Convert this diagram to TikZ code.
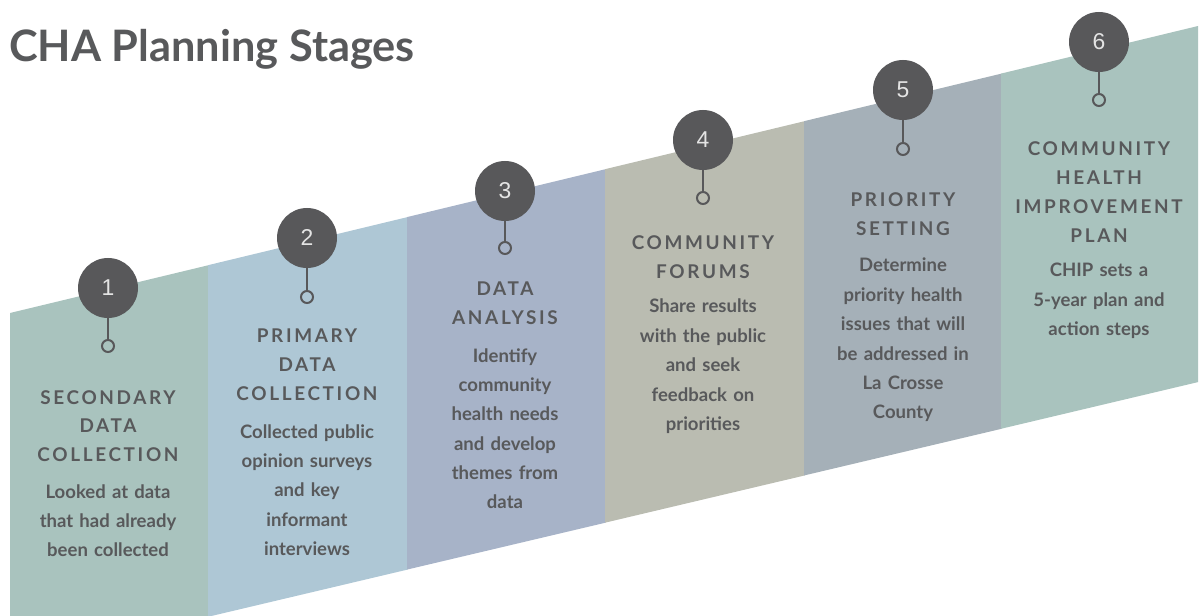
\documentclass[tikz,border=0pt]{standalone}
\usepackage{fontspec}
\setmainfont{Lato}
\newfontfamily\capsfont[LetterSpace=14]{Lato}
\newfontfamily\numfont{Liberation Sans}
\usepackage{tikz}

\definecolor{darkgrey}{HTML}{58585A}
\definecolor{textgrey}{HTML}{58595B}
\definecolor{numgrey}{HTML}{E4E4E4}
\definecolor{sage}{HTML}{A9C3BE}
\definecolor{skyblue}{HTML}{AEC7D5}
\definecolor{lavender}{HTML}{A7B3C8}
\definecolor{stone}{HTML}{BABCB1}
\definecolor{slate}{HTML}{A5B0B8}

\begin{document}
\begin{tikzpicture}[x=1bp, y=-1bp,
  stage/.style={circle, fill=darkgrey, minimum size=60bp, inner sep=0pt,
    text=numgrey, font=\numfont\fontsize{23}{23}\selectfont},
  dot/.style={circle, draw=darkgrey, line width=2bp, minimum size=12bp, inner sep=0pt},
  stem/.style={draw=darkgrey, line width=2.2bp},
  title/.style={anchor=base, align=center, text width=190bp, text=textgrey,
    font=\capsfont\bfseries\fontsize{19}{29}\selectfont},
  body/.style={anchor=base, align=center, text width=196bp, text=textgrey,
    font=\bfseries\fontsize{18.6}{29.5}\selectfont}]
\useasboundingbox (0,0) rectangle (1202,616);

% columns
\fill[sage] (10,313) -- (208.5,265.2) -- (208.5,616) -- (10,616) -- cycle;
\fill[skyblue] (208,265.2) -- (407.5,217.1) -- (407.5,569.6) -- (208,616.8) -- cycle;
\fill[lavender] (407,217.1) -- (605.5,169.2) -- (605.5,522.7) -- (407,569.6) -- cycle;
\fill[stone] (605,169.2) -- (804.5,121.2) -- (804.5,475.5) -- (605,522.7) -- cycle;
\fill[slate] (804,121.2) -- (1001.5,73.6) -- (1001.5,428.8) -- (804,475.5) -- cycle;
\fill[sage] (1001,73.6) -- (1198,26) -- (1198,382.1) -- (1001,428.8) -- cycle;

\node[anchor=base west, text=textgrey, font=\bfseries\fontsize{43.5}{43.5}\selectfont, inner sep=0pt]
  (head) at (9,62) {CHA Planning Stages};

% stage 1
\node[stage] (num1) at (108,288) {1};
\node[dot] (dot1) at (108,346) {};
\draw[stem] (num1) -- (dot1);
\node[title] (title1) at (108,404) {SECONDARY\\DATA\\COLLECTION};
\node[body] (text1) at (108,498) {Looked at data\\that had already\\been collected};

% stage 2
\node[stage] (num2) at (307,238) {2};
\node[dot] (dot2) at (307,297) {};
\draw[stem] (num2) -- (dot2);
\node[title] (title2) at (307,343) {PRIMARY\\DATA\\COLLECTION};
\node[body] (text2) at (307,438) {Collected public\\opinion surveys\\and key\\informant\\interviews};

% stage 3
\node[stage] (num3) at (505,191) {3};
\node[dot] (dot3) at (505,248) {};
\draw[stem] (num3) -- (dot3);
\node[title] (title3) at (505,296) {DATA\\ANALYSIS};
\node[body] (text3) at (505,362) {Identify\\community\\health needs\\and develop\\themes from\\data};

% stage 4
\node[stage] (num4) at (703,140) {4};
\node[dot] (dot4) at (703,198) {};
\draw[stem] (num4) -- (dot4);
\node[title] (title4) at (703,250) {COMMUNITY\\FORUMS};
\node[body] (text4) at (703,313) {Share results\\with the public\\and seek\\feedback on\\priorities};

% stage 5
\node[stage] (num5) at (903,90) {5};
\node[dot] (dot5) at (903,149) {};
\draw[stem] (num5) -- (dot5);
\node[title] (title5) at (903,207) {PRIORITY\\SETTING};
\node[body] (text5) at (903,272) {Determine\\priority health\\issues that will\\be addressed in\\La Crosse\\County};

% stage 6
\node[stage] (num6) at (1099,42) {6};
\node[dot] (dot6) at (1099,100) {};
\draw[stem] (num6) -- (dot6);
\node[title] (title6) at (1099,156) {COMMUNITY\\HEALTH\\IMPROVEMENT\\PLAN};
\node[body] (text6) at (1099,277) {CHIP sets a\\5-year plan and\\action steps};
\end{tikzpicture}
\end{document}
